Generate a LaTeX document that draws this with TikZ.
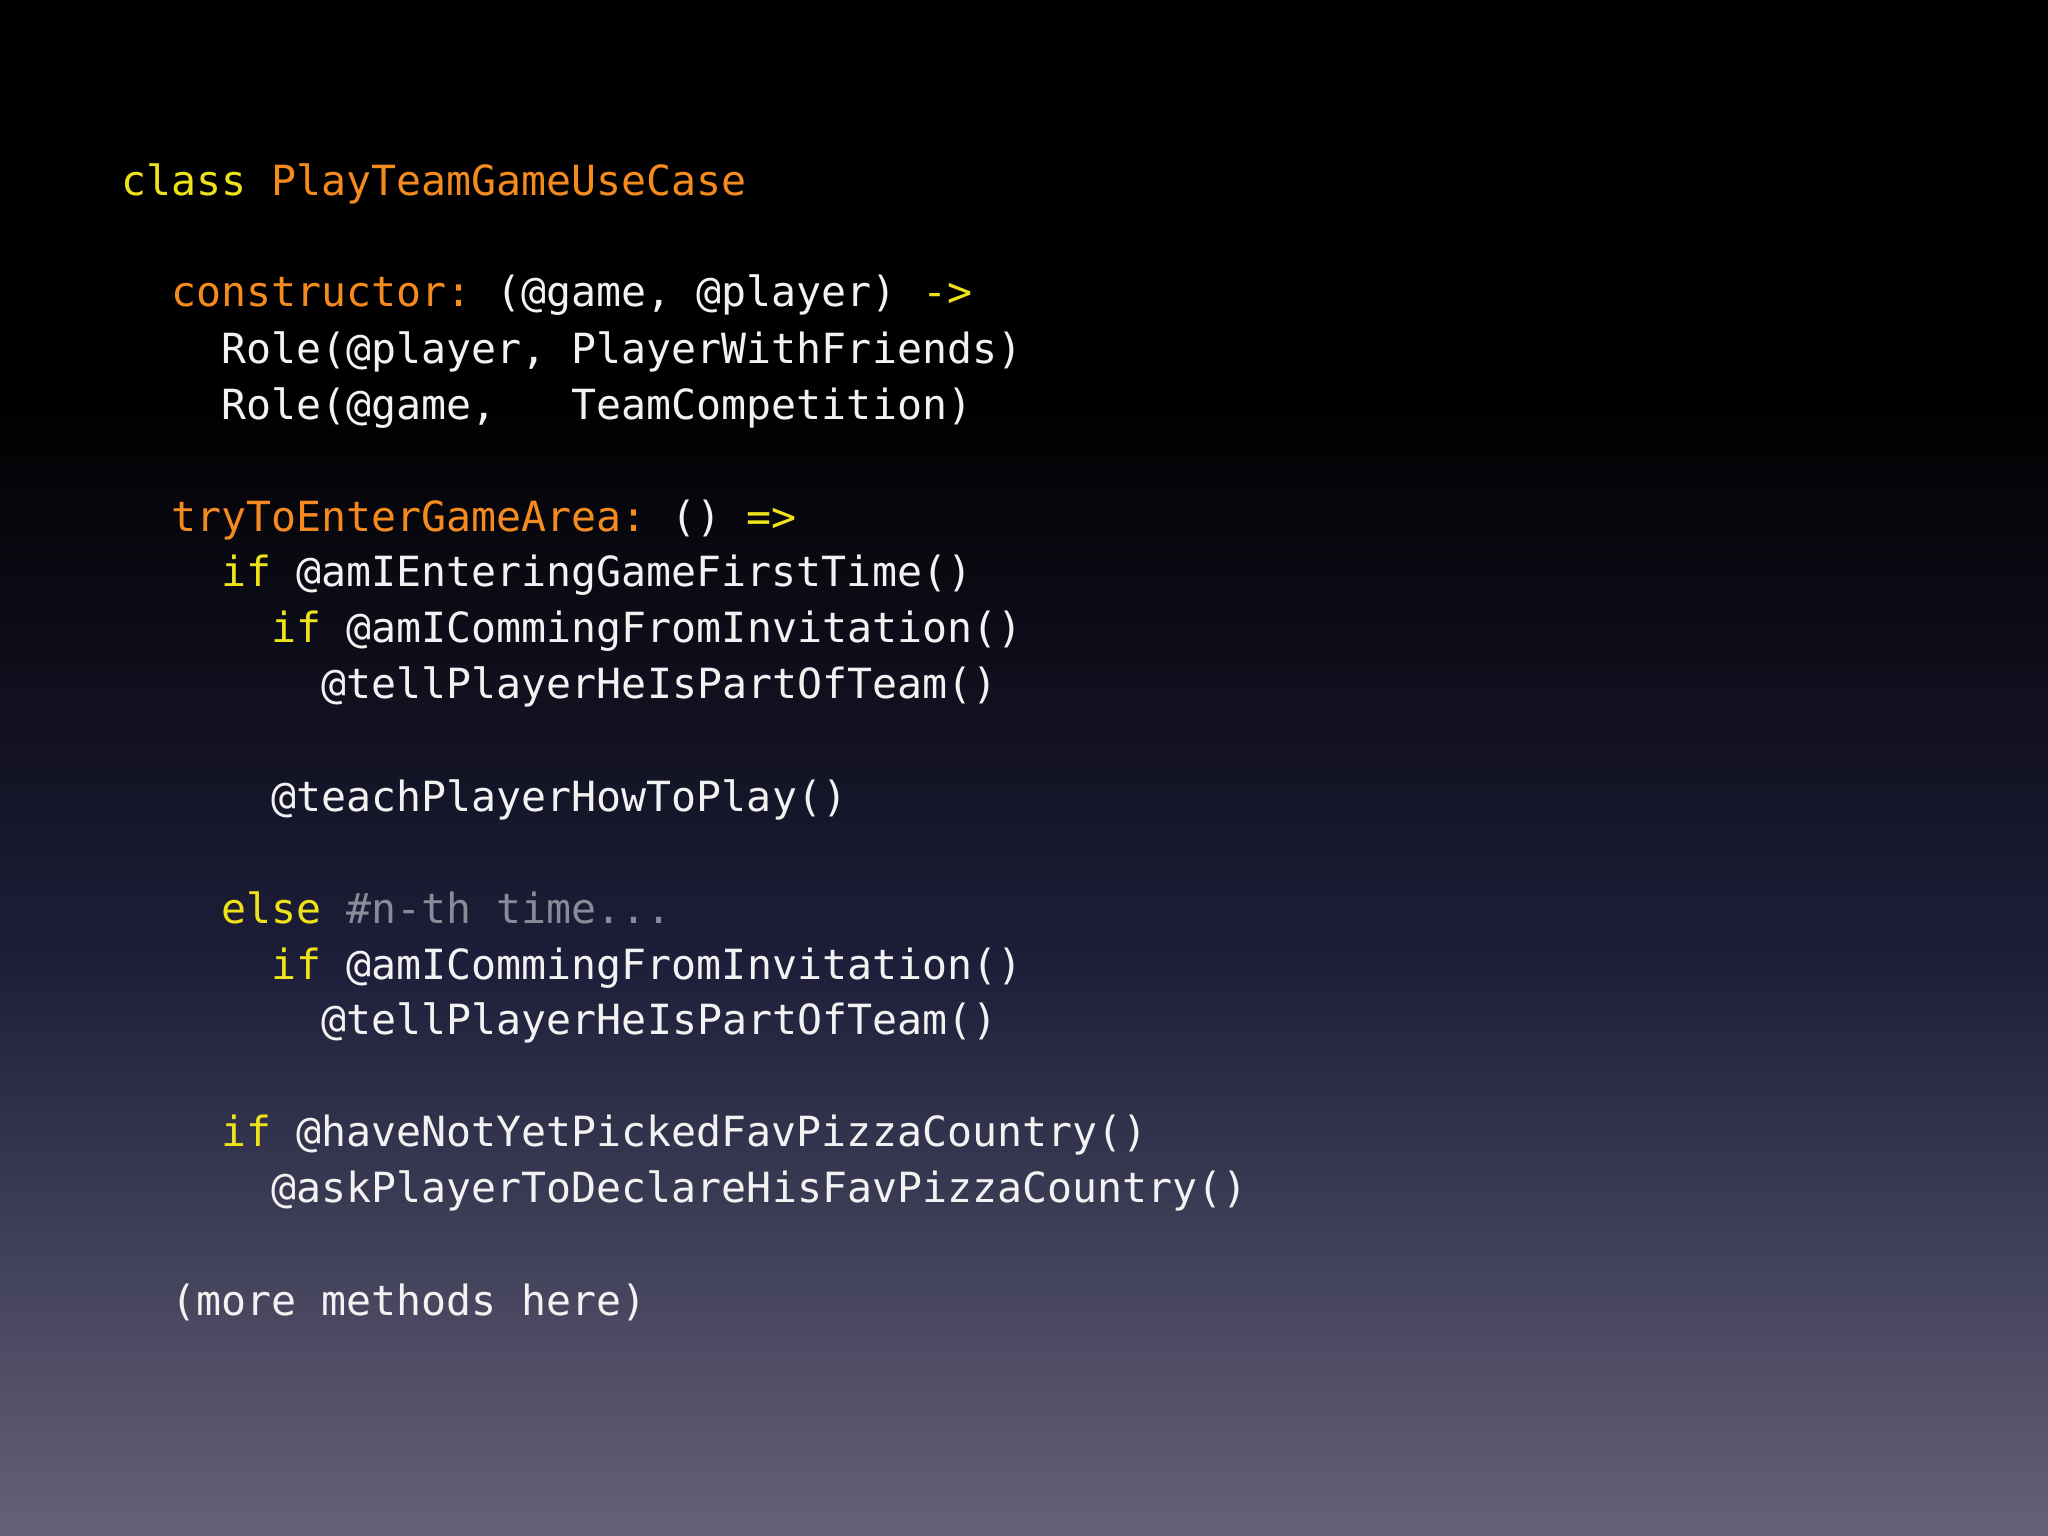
\documentclass[tikz,border=0pt]{standalone}
\usepackage{fontspec}
\setmonofont{DejaVu Sans Mono}
\definecolor{kw}{HTML}{EEE21A}
\definecolor{nm}{HTML}{F58A1E}
\definecolor{cm}{HTML}{8A8A98}
\definecolor{tx}{HTML}{F2F2F2}
\tikzset{ln/.style={anchor=base west,inner sep=0pt,text=tx,font=\fontsize{9.05pt}{11pt}\ttfamily}}
\begin{document}
\begin{tikzpicture}[x=0.01cm,y=-0.01cm]
\fill[black] (0,0) rectangle (1568,300);
\shade[top color=black,bottom color={rgb,255:red,100;green,98;blue,120},middle color={rgb,255:red,30;green,30;blue,58}] (0,299) rectangle (1568,1176);
\useasboundingbox (0,0) rectangle (1568,1176);
\def\c{19.2}
\node[ln] (l1) at (92,150) {\textcolor{kw}{class} \textcolor{nm}{PlayTeamGameUseCase}};
\node[ln] (l2) at (92+2*\c,235) {\textcolor{nm}{constructor:} (@game, @player) \textcolor{kw}{->}};
\node[ln] (l3) at (92+4*\c,278) {Role(@player, PlayerWithFriends)};
\node[ln] (l4) at (92+4*\c,321) {Role(@game,\ \ \ TeamCompetition)};
\node[ln] (l5) at (92+2*\c,407) {\textcolor{nm}{tryToEnterGameArea:} () \textcolor{kw}{=>}};
\node[ln] (l6) at (92+4*\c,449) {\textcolor{kw}{if} @amIEnteringGameFirstTime()};
\node[ln] (l7) at (92+6*\c,492) {\textcolor{kw}{if} @amICommingFromInvitation()};
\node[ln] (l8) at (92+8*\c,535) {@tellPlayerHeIsPartOfTeam()};
\node[ln] (l9) at (92+6*\c,621) {@teachPlayerHowToPlay()};
\node[ln] (l10) at (92+4*\c,707) {\textcolor{kw}{else} \textcolor{cm}{\#n-th time...}};
\node[ln] (l11) at (92+6*\c,750) {\textcolor{kw}{if} @amICommingFromInvitation()};
\node[ln] (l12) at (92+8*\c,792) {@tellPlayerHeIsPartOfTeam()};
\node[ln] (l13) at (92+4*\c,878) {\textcolor{kw}{if} @haveNotYetPickedFavPizzaCountry()};
\node[ln] (l14) at (92+6*\c,921) {@askPlayerToDeclareHisFavPizzaCountry()};
\node[ln] (l15) at (92+2*\c,1007) {(more methods here)};
\end{tikzpicture}
\end{document}
